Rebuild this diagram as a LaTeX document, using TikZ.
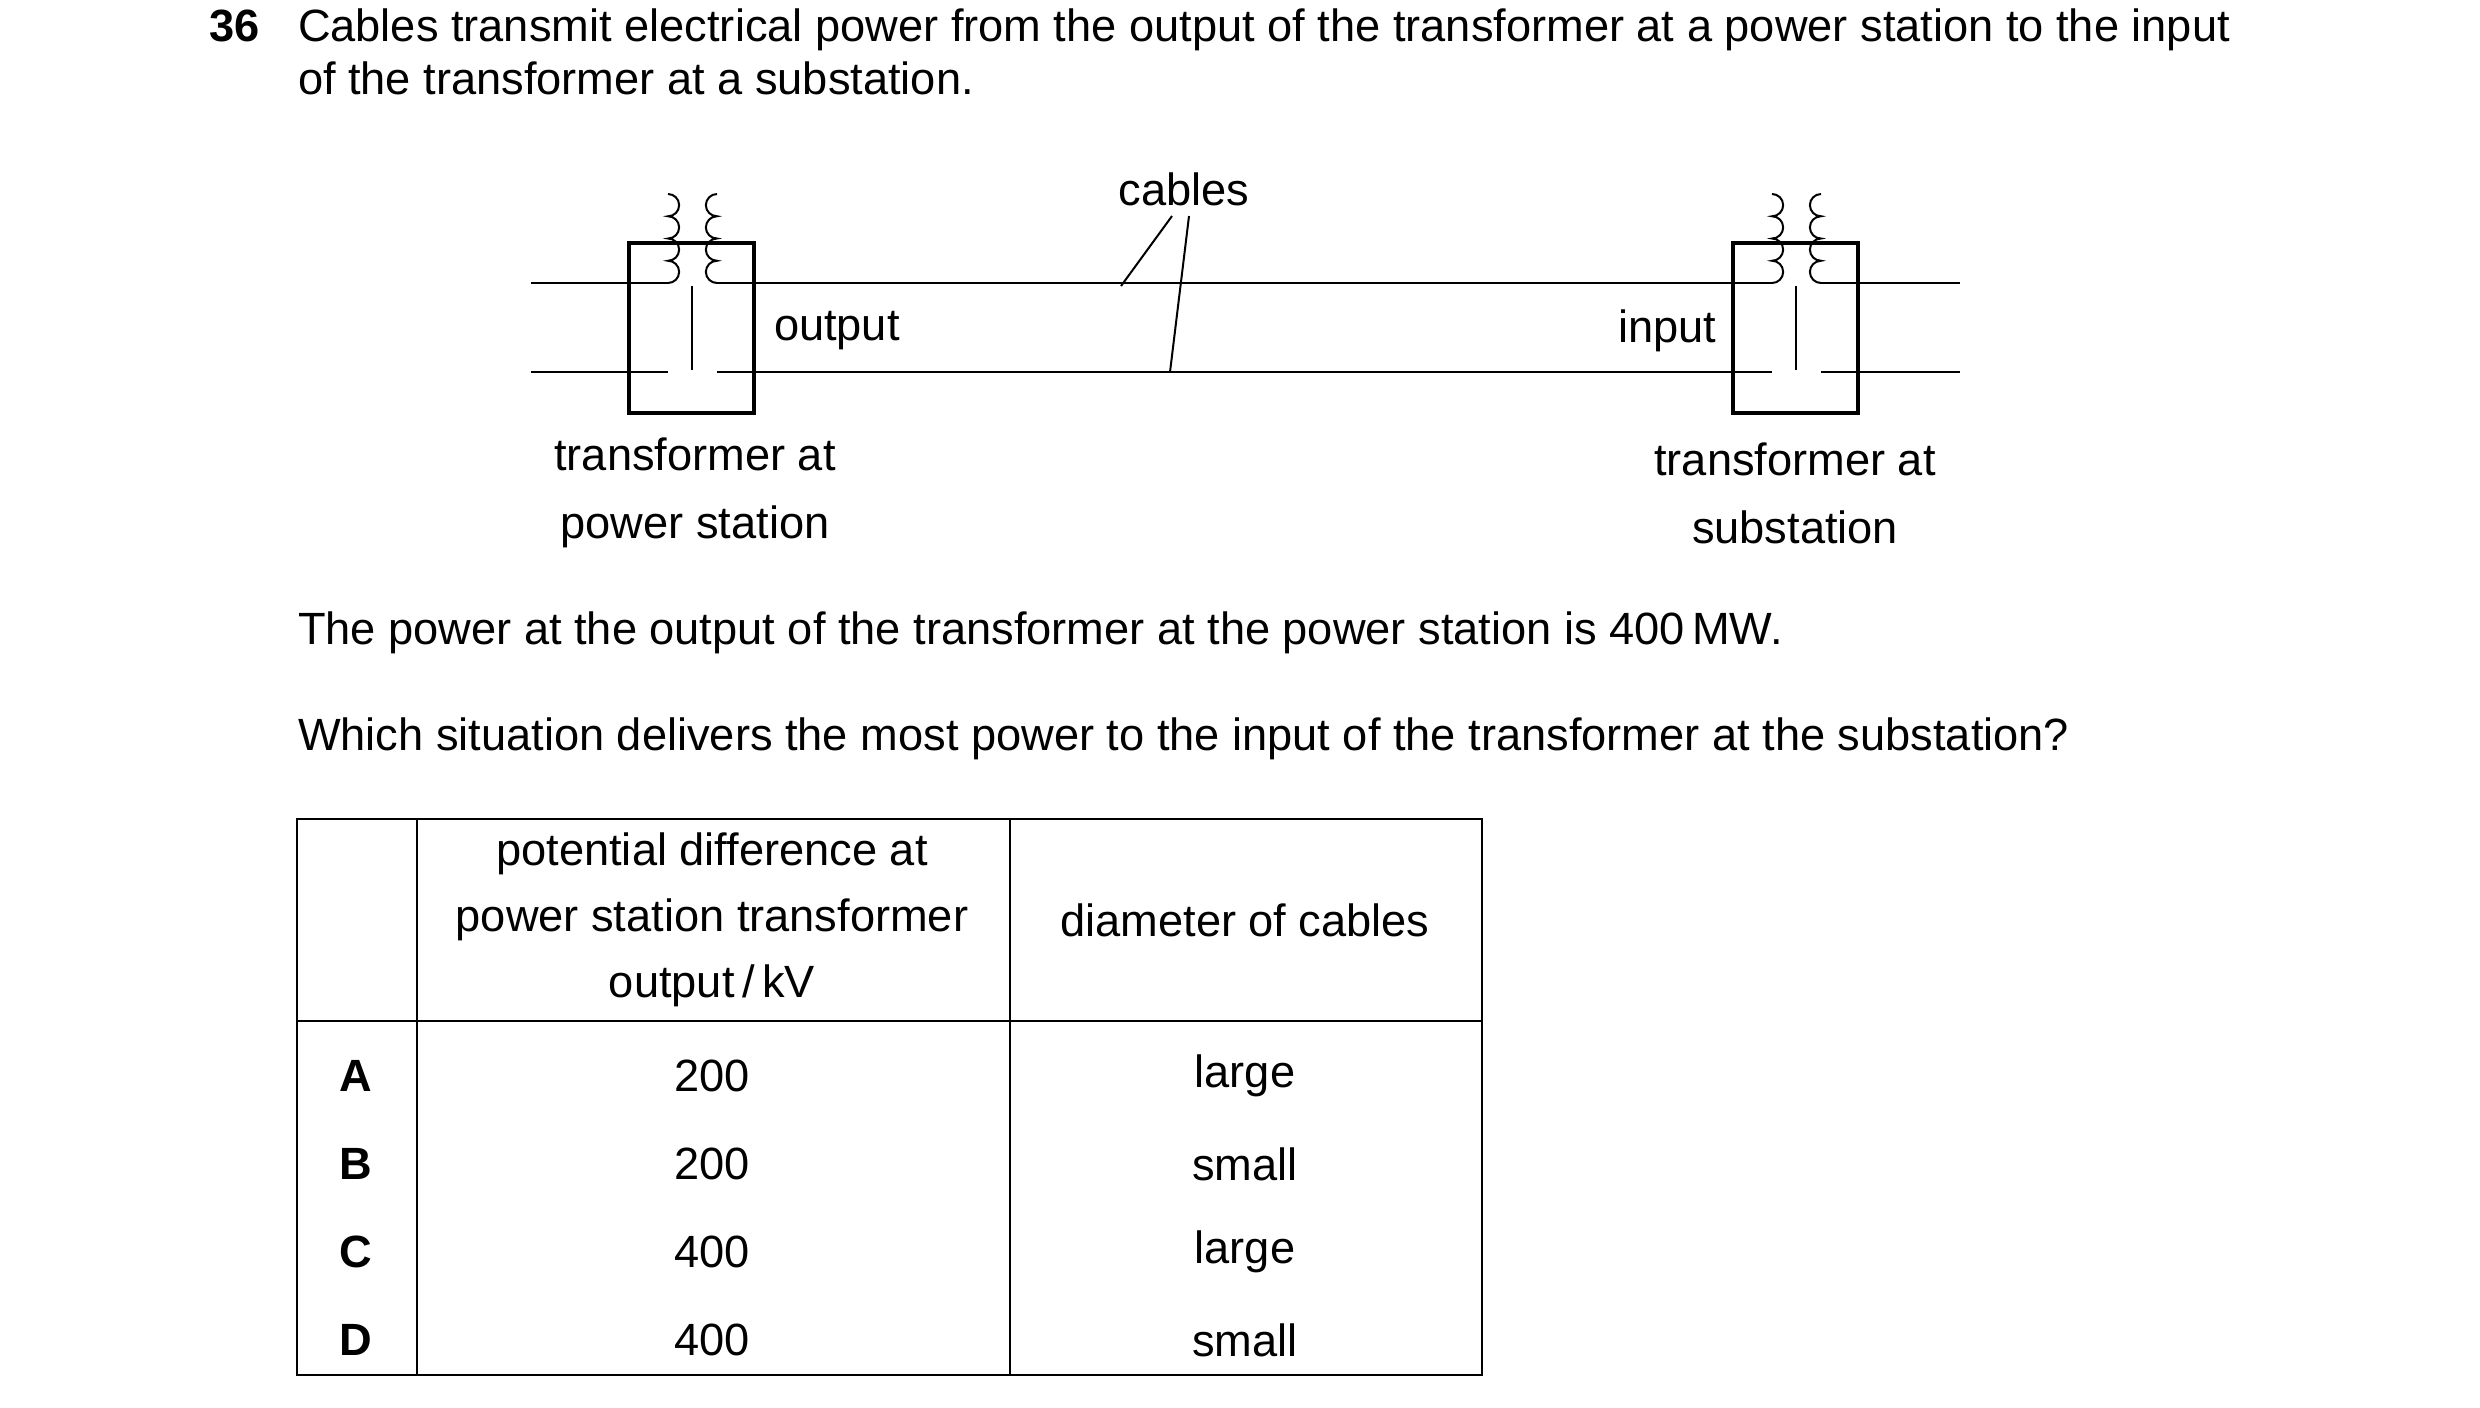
\documentclass[tikz,border=0pt]{standalone}
\usepackage{fontspec}
\setmainfont{Liberation Sans}
\tikzset{every picture/.style={line width=0.5pt}}
\tikzset{txt/.style={inner sep=0pt,font=\fontsize{11.3}{13.5}\selectfont},
  coil/.style={line width=0.5pt},
  tbox/.style={line width=0.8pt}}
\begin{document}
\begin{tikzpicture}[x=0.25pt,y=0.25pt,yscale=-1,xscale=1]
\useasboundingbox (0,0) rectangle (2480,1407);

% Question
\node (num) [txt,anchor=base west] at (208,41) {\textbf{36}};
\node (q1) [txt,anchor=base west] at (297,41) {Cables transmit electrical power from the output of the transformer at a power station to the input};
\node (q2) [txt,anchor=base west] at (297,94) {of the transformer at a substation.};

%Transformers
\foreach \s in {0,1104} {
\draw [tbox] (629+\s,243) rectangle (754+\s,413);
\draw [coil] (668+\s,283) arc (90:-90:11.125) arc (90:-90:11.125) arc (90:-90:11.125) arc (90:-90:11.125);
\draw [coil] (717+\s,283) arc (90:270:11.125) arc (90:270:11.125) arc (90:270:11.125) arc (90:270:11.125);
\draw [coil] (692+\s,286) -- (692+\s,370);
}
%Straight Lines
\draw (531,283) -- (668,283) (531,372) -- (668,372);
\draw (717,283) -- (1772,283) (717,372) -- (1772,372);
\draw (1821,283) -- (1960,283) (1821,372) -- (1960,372);

% Text Node
\node (out) [txt,anchor=west] at (773,331) {output};
\node (in) [txt,anchor=east] at (1717,331) {input};
\node (cab) [txt] at (1184,189) {cables};
\coordinate (c1) at (1121,286);
\coordinate (c2) at (1170,372);
\draw (1172,216) -- (c1);
\draw (1189,216) -- (c2);
\node (tps) [txt,align=center] at (695,493) {transformer at\\[3.5pt]power station};
\node (tss) [txt,align=center] at (1795,493) {transformer at\\[3.5pt]substation};

\node (p1) [txt,anchor=base west] at (297,644) {The power at the output of the transformer at the power station is 400\,MW.};
\node (p2) [txt,anchor=base west] at (297,750) {Which situation delivers the most power to the input of the transformer at the substation?};

%Table
\draw (297,819) rectangle (1482,1375);
\draw (417,819) -- (417,1375) (1010,819) -- (1010,1375);
\draw (297,1021) -- (1482,1021);
\node (h1) [txt,align=center] at (712,920) {potential difference at\\[3pt]power station transformer\\[3pt]output\,/\,kV};
\node (h2) [txt] at (1245,920) {diameter of cables};
\foreach \l/\v/\d [count=\i] in {A/200/large,B/200/small,C/400/large,D/400/small} {
\node (k\i) [txt] at (356,988+88*\i) {\textbf{\l}};
\node (v\i) [txt] at (712,988+88*\i) {\v};
\node (d\i) [txt] at (1245,988+88*\i) {\d};
}
\end{tikzpicture}
\end{document}
